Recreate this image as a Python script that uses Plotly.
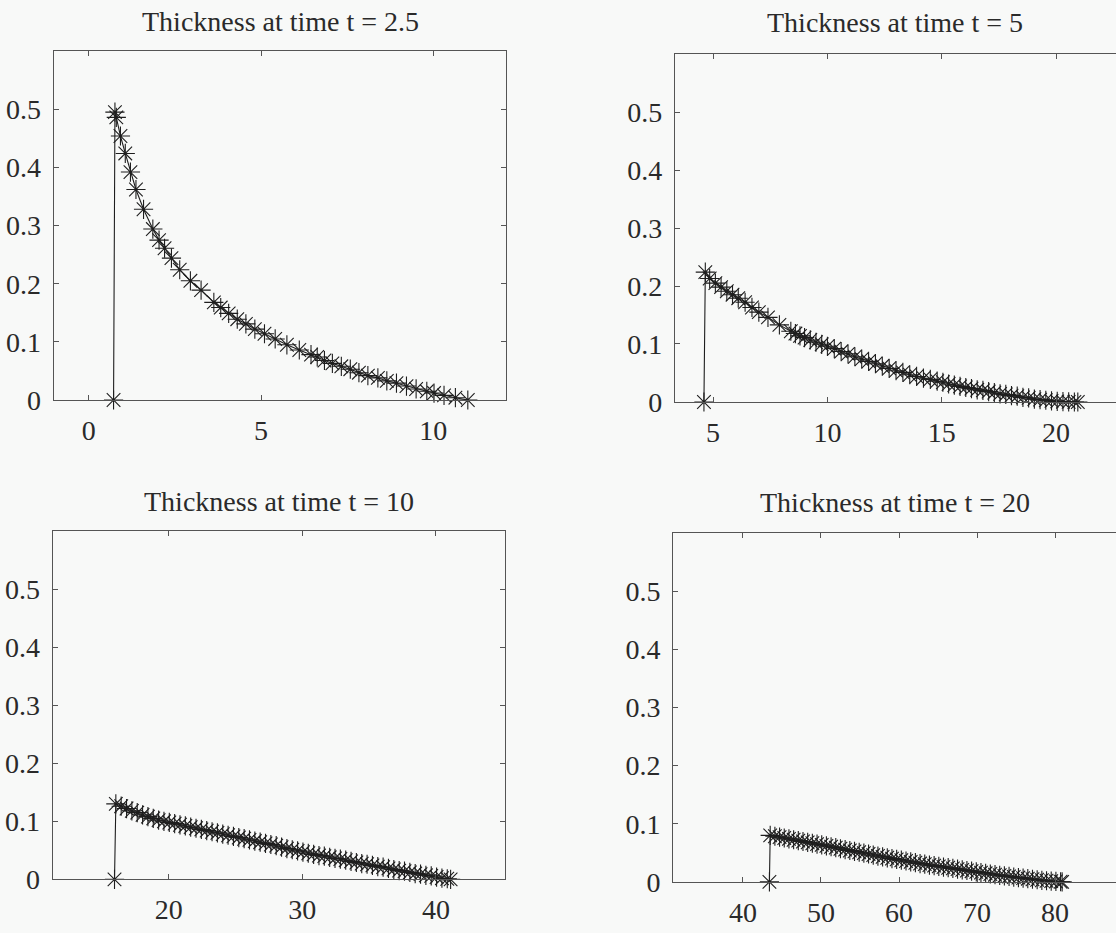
import plotly.graph_objects as go

# ---------------- data ----------------
titles = ["Thickness at time t = 2.5", "Thickness at time t = 5",
          "Thickness at time t = 10", "Thickness at time t = 20"]

x1 = [0.72, 0.76, 0.80, 0.92, 1.06, 1.21, 1.37, 1.59, 1.86, 2.04, 2.20, 2.40, 2.64, 2.95,
      3.26, 3.63, 3.83, 4.06, 4.31, 4.56, 4.82, 5.10, 5.41, 5.75, 6.11, 6.45, 6.63, 6.84,
      7.07, 7.33, 7.59, 7.84, 8.10, 8.39, 8.65, 8.93, 9.22, 9.50, 9.81, 10.02, 10.31,
      10.64, 11.00]
y1 = [0.0, 0.495, 0.486, 0.454, 0.424, 0.392, 0.362, 0.328, 0.294, 0.275, 0.261, 0.244,
      0.224, 0.205, 0.189, 0.168, 0.159, 0.149, 0.139, 0.131, 0.122, 0.114, 0.105, 0.095,
      0.086, 0.078, 0.074, 0.068, 0.063, 0.058, 0.053, 0.047, 0.042, 0.038, 0.033, 0.029,
      0.024, 0.019, 0.015, 0.012, 0.008, 0.004, 0.0]

x2 = [4.60, 4.66, 4.85, 5.10, 5.35, 5.60, 5.85, 6.10, 6.40, 6.70, 7.00, 7.40, 7.90, 8.40,
      8.60, 8.80, 9.00, 9.25, 9.50, 9.75, 10.00, 10.30, 10.60, 10.90, 11.20, 11.50, 11.80,
      12.10, 12.40, 12.70, 13.00, 13.30, 13.60, 13.90, 14.20, 14.50, 14.80, 15.05, 15.30,
      15.55, 15.80, 16.05, 16.30, 16.55, 16.80, 17.05, 17.30, 17.55, 17.80, 18.05, 18.30,
      18.55, 18.80, 19.05, 19.30, 19.55, 19.80, 20.05, 20.30, 20.55, 20.80, 20.95]
y2 = [0.0, 0.224, 0.213, 0.205, 0.198, 0.191, 0.185, 0.179, 0.172, 0.163, 0.155, 0.146,
      0.133, 0.122, 0.118, 0.114, 0.111, 0.107, 0.103, 0.0995, 0.096, 0.092, 0.087, 0.083,
      0.078, 0.074, 0.070, 0.066, 0.062, 0.058, 0.054, 0.051, 0.047, 0.044, 0.041, 0.039,
      0.036, 0.034, 0.031, 0.029, 0.027, 0.025, 0.023, 0.021, 0.020, 0.018, 0.016, 0.014,
      0.013, 0.011, 0.010, 0.008, 0.007, 0.005, 0.004, 0.003, 0.002, 0.001, 0.0005,
      0.0002, 0.0, 0.0]

x3 = [15.95, 16.05, 16.45, 16.85, 17.25, 17.65, 18.05, 18.45, 18.85, 19.25, 19.65, 20.05,
      20.45, 20.85, 21.25, 21.65, 22.05, 22.45, 22.85, 23.25, 23.65, 24.05, 24.45, 24.85,
      25.25, 25.65, 26.05, 26.45, 26.85, 27.25, 27.65, 28.05, 28.45, 28.85, 29.25, 29.65,
      30.05, 30.45, 30.85, 31.25, 31.65, 32.05, 32.45, 32.85, 33.25, 33.65, 34.05, 34.45,
      34.85, 35.25, 35.65, 36.05, 36.45, 36.85, 37.25, 37.65, 38.05, 38.45, 38.85, 39.25,
      39.65, 40.05, 40.45, 40.85, 41.10]
y3 = [0.0, 0.130, 0.126, 0.122, 0.118, 0.115, 0.111, 0.108, 0.105, 0.102, 0.100, 0.098,
      0.096, 0.094, 0.092, 0.090, 0.088, 0.086, 0.084, 0.082, 0.080, 0.078, 0.076, 0.074,
      0.072, 0.070, 0.068, 0.066, 0.064, 0.062, 0.060, 0.058, 0.0555, 0.053, 0.051, 0.049,
      0.047, 0.045, 0.043, 0.041, 0.040, 0.038, 0.036, 0.035, 0.033, 0.031, 0.029, 0.027,
      0.026, 0.024, 0.022, 0.021, 0.019, 0.017, 0.015, 0.014, 0.012, 0.010, 0.009, 0.007,
      0.006, 0.004, 0.002, 0.001, 0.0]

x4 = [43.40, 43.50, 44.1, 44.7, 45.3, 45.9, 46.5, 47.1, 47.7, 48.3, 48.9, 49.5, 50.1, 50.7,
      51.3, 51.9, 52.5, 53.1, 53.7, 54.3, 54.9, 55.5, 56.1, 56.7, 57.3, 57.9, 58.5, 59.1,
      59.7, 60.3, 60.9, 61.5, 62.1, 62.7, 63.3, 63.9, 64.5, 65.1, 65.7, 66.3, 66.9, 67.5,
      68.1, 68.7, 69.3, 69.9, 70.5, 71.1, 71.7, 72.3, 72.9, 73.5, 74.1, 74.7, 75.3, 75.9,
      76.5, 77.1, 77.7, 78.3, 78.9, 79.5, 80.1, 80.7, 80.9]
y4 = [0.0, 0.080, 0.0785, 0.077, 0.0755, 0.074, 0.0725, 0.071, 0.0695, 0.068, 0.0665,
      0.065, 0.0637, 0.062, 0.0605, 0.059, 0.057, 0.0555, 0.054, 0.0525, 0.051, 0.0495,
      0.048, 0.046, 0.0445, 0.043, 0.0415, 0.040, 0.0387, 0.0373, 0.036, 0.0345, 0.033,
      0.0316, 0.0305, 0.029, 0.028, 0.0268, 0.0256, 0.0244, 0.0232, 0.022, 0.0208, 0.0196,
      0.0184, 0.0172, 0.016, 0.0148, 0.0136, 0.0124, 0.0114, 0.0104, 0.0094, 0.0084,
      0.0075, 0.0065, 0.0055, 0.0046, 0.0037, 0.0028, 0.002, 0.0013, 0.0008, 0.0003, 0.0]

xs = [x1, x2, x3, x4]
ys = [y1, y2, y3, y4]
x_ranges = [[-1.02, 12.12], [3.33, 22.62], [11.31, 45.2], [31.06, 87.8]]
x_ticks = [[0, 5, 10], [5, 10, 15, 20], [20, 30, 40], [40, 50, 60, 70, 80]]
y_ticks = [0, 0.1, 0.2, 0.3, 0.4, 0.5]
y_ticktext = ["0", "0.1", "0.2", "0.3", "0.4", "0.5"]

# ---------------- layout geometry ----------------
W, H = 1116, 933
boxes = [  # left, right, top, bottom in pixels
    (53.6, 506.4, 52.0, 407.0),
    (674.9, 1116.0, 55.0, 409.0),
    (52.5, 505.4, 540.3, 894.7),
    (673.1, 1116.0, 542.3, 897.3),
]
title_y = [22, 23, 510, 511]
right_frame_visible = [True, False, True, False]

BG = "#f8f9f8"
AX = "#555555"
TXT = "#2a2a2a"
FONT = "Liberation Serif"
FS = 28

fig = go.Figure()
layout = dict(
    width=W, height=H, paper_bgcolor=BG, plot_bgcolor=BG,
    margin=dict(l=0, r=0, t=0, b=0), showlegend=False,
    font=dict(family=FONT, size=FS, color=TXT),
)
annotations = []
for i in range(4):
    l, r, t, b = boxes[i]
    xa = "xaxis" if i == 0 else f"xaxis{i+1}"
    ya = "yaxis" if i == 0 else f"yaxis{i+1}"
    xr = "x" if i == 0 else f"x{i+1}"
    yr = "y" if i == 0 else f"y{i+1}"
    fig.add_trace(go.Scatter(
        x=xs[i], y=ys[i], xaxis=xr, yaxis=yr, mode="lines+markers",
        line=dict(color="#1e1e1e", width=1.1),
        marker=dict(symbol="asterisk-open", size=16,
                    line=dict(color="#3a3a3a", width=1.1)),
        cliponaxis=False,
    ))
    common = dict(showline=True, linecolor=AX, linewidth=1,
                  ticks="inside", ticklen=5, tickcolor=AX, tickwidth=1,
                  showgrid=False, zeroline=False,
                  tickfont=dict(family=FONT, size=FS, color=TXT))
    layout[xa] = dict(domain=[l / W, r / W], range=x_ranges[i], anchor=yr,
                      tickvals=x_ticks[i], ticklabelstandoff=5,
                      mirror="allticks", **common)
    layout[ya] = dict(domain=[1 - b / H, 1 - t / H], range=[0, 0.6], anchor=xr,
                      tickvals=y_ticks, ticktext=y_ticktext, ticklabelstandoff=6,
                      mirror="allticks" if right_frame_visible[i] else False,
                      **common)
    annotations.append(dict(
        text=titles[i], x=(l + r) / 2 / W, y=1 - title_y[i] / H,
        xref="paper", yref="paper", xanchor="center", yanchor="middle",
        showarrow=False, font=dict(family=FONT, size=FS, color=TXT)))
layout["annotations"] = annotations
fig.update_layout(**layout)
fig.write_html("out.html", config={"displayModeBar": False},
               post_script="document.body.style.margin='0px';"
                           "document.body.style.overflow='hidden';"
                           "document.body.style.background='" + BG + "';")
